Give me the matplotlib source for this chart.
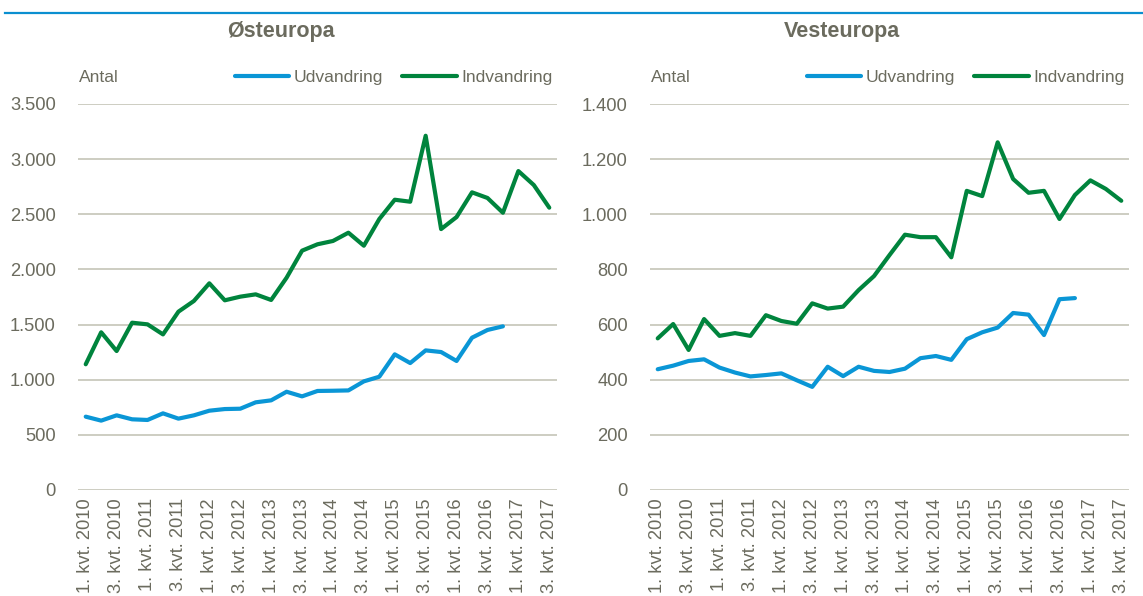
import matplotlib
matplotlib.use("Agg")
import matplotlib.pyplot as plt
from matplotlib.ticker import FuncFormatter

plt.rcParams['font.family'] = ['Liberation Sans Narrow', 'Liberation Sans', 'DejaVu Sans']

# kvartaler 1. kvt. 2010 - 3. kvt. 2017
quarters = [f"{q}. kvt. {y}" for y in range(2010, 2018) for q in (1, 2, 3, 4)][:31]

# Østeuropa
oest_ind = [1140, 1430, 1260, 1517, 1502, 1411, 1617, 1714, 1874, 1720, 1753, 1774,
            1723, 1925, 2170, 2228, 2258, 2333, 2215, 2457, 2632, 2614, 3212, 2366,
            2475, 2699, 2648, 2514, 2892, 2765, 2560]
oest_ud = [665, 629, 677, 641, 635, 695, 647, 677, 719, 734, 737, 795,
           813, 891, 849, 898, 900, 903, 985, 1027, 1230, 1151, 1266, 1251,
           1170, 1381, 1451, 1484]

# Vesteuropa
vest_ind = [550, 602, 508, 620, 559, 569, 559, 634, 613, 603, 677, 658,
            665, 725, 776, 852, 926, 917, 917, 844, 1085, 1066, 1261, 1128,
            1078, 1085, 983, 1070, 1123, 1092, 1049]
vest_ud = [438, 451, 468, 474, 444, 426, 412, 417, 423, 398, 374, 447,
           413, 447, 432, 428, 440, 478, 486, 472, 547, 572, 589, 642,
           636, 562, 692, 696]

blue = "#0a96d6"
green = "#00843d"
grey = "#6b6b5e"
gridc = "#c9c9bd"

W, H = 1143, 596
fig = plt.figure(figsize=(W / 100, H / 100), dpi=100)

def thousands(v, pos):
    return f"{int(v):,}".replace(",", ".")

panels = [
    (78, "Østeuropa", 281, oest_ud, oest_ind, 3500, 500),
    (650, "Vesteuropa", 842, vest_ud, vest_ind, 1400, 200),
]

for x0, title, tx, ud, ind, ymax, step in panels:
    ax = fig.add_axes([x0 / W, 1 - 490 / H, 479 / W, 386 / H])
    ax.plot(range(len(ud)), ud, color=blue, lw=3, label="Udvandring", solid_capstyle="round")
    ax.plot(range(len(ind)), ind, color=green, lw=3, label="Indvandring", solid_capstyle="round")
    ax.set_xlim(-0.5, len(quarters) - 0.5)
    ax.set_ylim(0, ymax)
    ax.set_yticks(range(0, ymax + 1, step))
    ax.yaxis.set_major_formatter(FuncFormatter(thousands))
    ax.set_xticks(range(0, len(quarters), 2))
    ax.set_xticklabels(quarters[::2], rotation=90)
    ax.tick_params(length=0, colors=grey, labelsize=13.2)
    ax.tick_params(axis='y', pad=16)
    ax.tick_params(axis='x', pad=6)
    ax.grid(axis='y', color=gridc, lw=1.3)
    ax.set_axisbelow(True)
    for s in ax.spines.values():
        s.set_visible(False)
    leg = ax.legend(loc='center right', bbox_to_anchor=(0.99, 1.068), ncol=2, frameon=False,
                    fontsize=12.6, handlelength=3.1, handletextpad=0.25, columnspacing=1.1,
                    borderaxespad=0, borderpad=0)
    for t in leg.get_texts():
        t.set_color(grey)
    fig.text((x0 + 1) / W, 1 - 77 / H, "Antal", color=grey, fontsize=12.6, va='center', ha='left')
    fig.text(tx / W, 1 - 32 / H, title, color=grey, fontsize=15.5, fontweight='bold',
             va='center', ha='center')

# blå linje øverst
fig.add_artist(plt.Line2D([5 / W, 1], [1 - 13 / H, 1 - 13 / H], color="#0a8fd0", lw=1.6))

fig.savefig("out.png", dpi=100, facecolor="white")
